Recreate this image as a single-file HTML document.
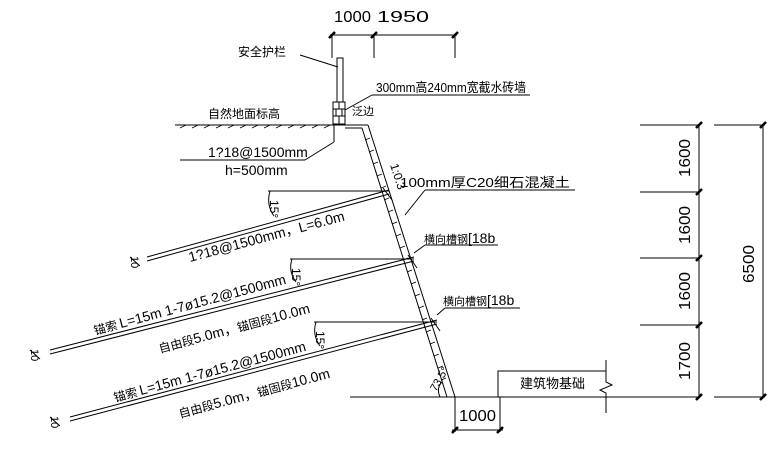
<!DOCTYPE html>
<html><head><meta charset="utf-8"><style>
html,body{margin:0;padding:0;background:#fff;}
svg{display:block;}
text{font-family:"Liberation Sans","Noto Sans CJK SC",sans-serif;fill:#000;}
.c{font-family:"Noto Sans CJK SC","WenQuanYi Zen Hei",sans-serif;}
</style></head><body>
<svg width="780" height="450" viewBox="0 0 780 450" xmlns="http://www.w3.org/2000/svg">
<g stroke="#000" stroke-width="1" fill="none">
<line x1="330" y1="35" x2="457" y2="35"/>
<line x1="332" y1="35" x2="332" y2="58"/><line x1="374" y1="35" x2="374" y2="58"/><line x1="455" y1="35" x2="455" y2="58"/>
<rect x="337" y="58" width="6" height="44"/>
<rect x="333" y="102" width="12" height="22"/>
<line x1="333" y1="109" x2="345" y2="109"/><line x1="333" y1="116" x2="345" y2="116"/>
<line x1="339" y1="102" x2="339" y2="109"/><line x1="336" y1="109" x2="336" y2="116"/><line x1="342" y1="109" x2="342" y2="116"/><line x1="339" y1="116" x2="339" y2="124"/>
<line x1="175" y1="125" x2="368" y2="125"/>
<path d="M180 128l6-3M192 128l6-3M204 128l6-3M216 128l6-3M228 128l6-3M240 128l6-3M252 128l6-3M264 128l6-3M276 128l6-3M288 128l6-3M300 128l6-3M312 128l6-3M324 128l6-3" stroke-width="0.8"/>
<line x1="345" y1="128" x2="362" y2="128"/>
<line x1="362" y1="128" x2="447" y2="397"/>
<line x1="368" y1="125" x2="455" y2="397"/>
<path d="M365 140l5-2M369 152l5-2M373 164l5-2M377 176l5-2M381 188l5-2M384 200l5-2M388 212l5-2M392 224l5-2M396 236l5-2M400 248l5-2M403 260l5-2M407 272l5-2M411 284l5-2M415 296l5-2M419 308l5-2M422 320l5-2M426 332l5-2M430 344l5-2M434 356l5-2M438 368l5-2M441 380l5-2" stroke-width="0.8"/>
<line x1="334" y1="125" x2="334" y2="142"/>
<line x1="334" y1="142" x2="305" y2="160"/><line x1="305" y1="160" x2="180" y2="160"/>
<line x1="300" y1="55" x2="338" y2="67"/>
<line x1="345" y1="110" x2="372" y2="95"/><line x1="372" y1="95" x2="530" y2="95"/>
<line x1="405" y1="215" x2="425" y2="190"/><line x1="425" y1="190" x2="575" y2="190"/>
<line x1="414" y1="253" x2="425" y2="245"/><line x1="425" y1="245" x2="498" y2="245"/>
<line x1="437" y1="315" x2="445" y2="308"/><line x1="445" y1="308" x2="520" y2="308"/>
<line x1="389" y1="190" x2="147" y2="257"/><line x1="389" y1="194" x2="147" y2="261"/>
<line x1="414" y1="257" x2="50" y2="350"/><line x1="414" y1="261" x2="50" y2="354"/>
<line x1="437" y1="320" x2="70" y2="417"/><line x1="437" y1="324" x2="70" y2="421"/>
<line x1="383" y1="188" x2="392" y2="200"/><line x1="408" y1="255" x2="417" y2="268"/><line x1="431" y1="318" x2="440" y2="331"/>
<line x1="130" y1="257" x2="140" y2="266"/><line x1="30" y1="350" x2="40" y2="359"/><line x1="50" y1="417" x2="60" y2="426"/>
<line x1="389" y1="191" x2="268" y2="191"/><path d="M270 191 Q266 205 274 216"/>
<line x1="414" y1="259" x2="290" y2="259"/><path d="M292 259 Q288 271 296 282"/>
<line x1="437" y1="322" x2="314" y2="322"/><path d="M316 322 Q312 335 320 346"/>
<line x1="350" y1="397" x2="700" y2="397"/><line x1="714" y1="397" x2="765" y2="397"/>
<path d="M498 397V371H606"/>
<path d="M606 360V382L612 385L600 390L606 393V413"/>
<path d="M440 397 Q436 388 442 382"/>
<line x1="455" y1="397" x2="455" y2="432"/><line x1="500" y1="397" x2="500" y2="432"/>
<line x1="452" y1="430" x2="503" y2="430"/>
<line x1="640" y1="125" x2="700" y2="125"/><line x1="640" y1="192" x2="700" y2="192"/>
<line x1="640" y1="258" x2="700" y2="258"/><line x1="640" y1="325" x2="700" y2="325"/>
<line x1="699" y1="125" x2="699" y2="397"/>
<line x1="714" y1="125" x2="765" y2="125"/><line x1="763" y1="125" x2="763" y2="397"/>
</g>
<g stroke="#000" stroke-width="2.5">
<path d="M329 38l6-6M371 38l6-6M452 38l6-6M452 433l6-6M497 433l6-6M696 128l6-6M696 195l6-6M696 261l6-6M696 328l6-6M696 400l6-6M760 128l6-6M760 400l6-6"/>
</g>
<g font-size="16">
<text x="334" y="22" textLength="37" lengthAdjust="spacingAndGlyphs">1000</text><text x="377" y="22" textLength="52" lengthAdjust="spacingAndGlyphs">1950</text>
<text x="208" y="157" font-size="14">1?18@1500mm</text>
<text x="225" y="175" font-size="14">h=500mm</text>
<text x="459" y="421" textLength="37" lengthAdjust="spacingAndGlyphs">1000</text>
</g>
<g class="c" font-size="12">
<text x="238" y="56">安全护栏</text>
<text x="376" y="92" font-size="13" textLength="150" lengthAdjust="spacingAndGlyphs"><tspan font-family="Liberation Sans">300mm</tspan>高<tspan font-family="Liberation Sans">240mm</tspan>宽截水砖墙</text>
<text x="208" y="118">自然地面标高</text>
<text x="352" y="115" font-size="11">泛边</text>
<text x="400" y="187" font-size="13" textLength="170" lengthAdjust="spacingAndGlyphs"><tspan font-family="Liberation Sans">100mm</tspan>厚<tspan font-family="Liberation Sans">C20</tspan>细石混凝土</text>
<text x="424" y="243" font-size="11">横向槽钢<tspan font-family="Liberation Sans" font-size="14">[18b</tspan></text>
<text x="443" y="305" font-size="11">横向槽钢<tspan font-family="Liberation Sans" font-size="14">[18b</tspan></text>
<text x="520" y="388" font-size="13">建筑物基础</text>
</g>
<g font-size="16">
<text transform="translate(690 177) rotate(-90)" textLength="38" lengthAdjust="spacingAndGlyphs">1600</text>
<text transform="translate(690 244) rotate(-90)" textLength="38" lengthAdjust="spacingAndGlyphs">1600</text>
<text transform="translate(690 310) rotate(-90)" textLength="38" lengthAdjust="spacingAndGlyphs">1600</text>
<text transform="translate(690 380) rotate(-90)" textLength="38" lengthAdjust="spacingAndGlyphs">1700</text>
<text transform="translate(754 283) rotate(-90)" textLength="38" lengthAdjust="spacingAndGlyphs">6500</text>
<text transform="translate(390 165) rotate(72)" font-size="12">1:0.3</text>
<text transform="translate(436 392) rotate(-60)" font-size="11">73.5°</text>
<text transform="translate(270 200) rotate(90)" font-size="12">15°</text>
<text transform="translate(292 268) rotate(90)" font-size="12">15°</text>
<text transform="translate(316 331) rotate(90)" font-size="12">15°</text>
<text transform="translate(131 256) rotate(90)" font-size="11">10</text>
<text transform="translate(31 349) rotate(90)" font-size="11">10</text>
<text transform="translate(51 416) rotate(90)" font-size="11">10</text>
<text transform="translate(190 262) rotate(-15)" font-size="14">1?18@1500mm，L=6.0m</text>
<text transform="translate(95 335) rotate(-15)" font-size="14"><tspan class="c" font-size="12">锚索 </tspan>L=15m 1-7ø15.2@1500mm</text>
<text transform="translate(160 353) rotate(-15)" font-size="14"><tspan class="c" font-size="12">自由段</tspan>5.0m，<tspan class="c" font-size="12">锚固段</tspan>10.0m</text>
<text transform="translate(115 402) rotate(-15)" font-size="14"><tspan class="c" font-size="12">锚索 </tspan>L=15m 1-7ø15.2@1500mm</text>
<text transform="translate(180 418) rotate(-15)" font-size="14"><tspan class="c" font-size="12">自由段</tspan>5.0m，<tspan class="c" font-size="12">锚固段</tspan>10.0m</text>
</g>
</svg>
</body></html>
